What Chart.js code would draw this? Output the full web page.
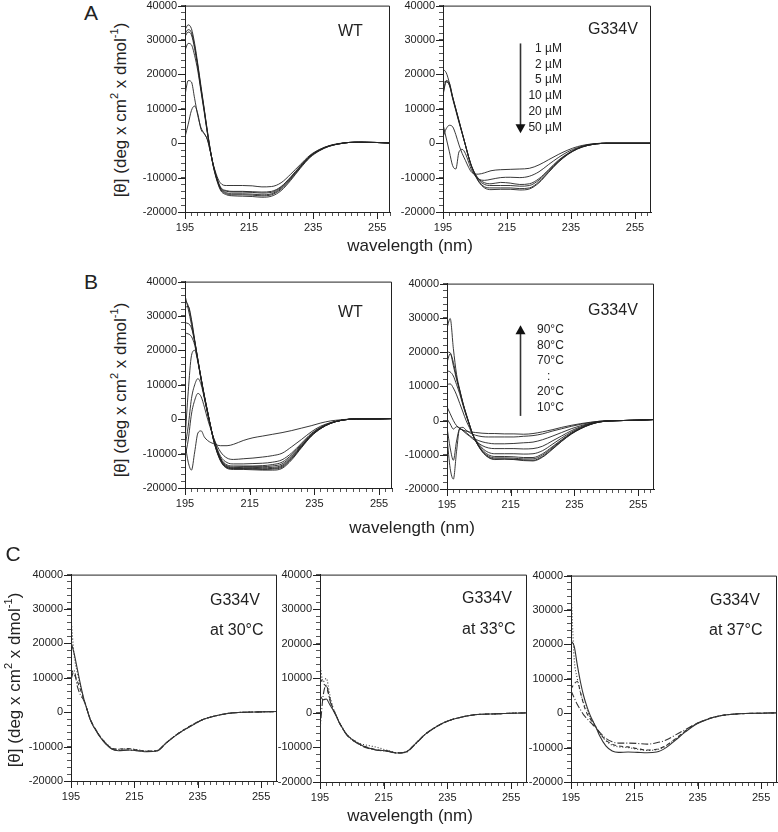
<!DOCTYPE html>
<html>
<head>
<meta charset="utf-8">
<script src="https://cdn.jsdelivr.net/npm/chart.js@4.4.1/dist/chart.umd.min.js"></script>
<style>
  body { margin: 0; background: #fff; width: 778px; height: 832px; position: relative; overflow: hidden;
         font-family: "Liberation Sans", Arial, sans-serif; color: #222; }
  .t { position: absolute; white-space: nowrap; line-height: 1; z-index: 2; }
  sup { font-size: 65%; line-height: 0; position: relative; top: -0.1em; }
</style>
</head>
<body>
<script>
// wavelength grid (nm)
const wl = [195,196,197,198,199,200,201,202,203,204,206,208,210,213,216,219,222,225,228,231,234,237,240,243,246,250,255,260];

// A, WT, protein concentration series
const aWT50 = [33000,34400,33300,29000,23000,16500,10000,3500,-2500,-7500,-13500,-15000,-15300,-15400,-15500,-15700,-15400,-13800,-10800,-7300,-4200,-2200,-900,-200,200,300,200,0];
const aWT20 = [31800,33000,32200,28200,22500,16000,9800,3300,-2500,-7300,-13200,-14700,-15000,-15000,-15100,-15300,-15000,-13400,-10500,-7100,-4000,-2100,-900,-200,200,300,200,0];
const aWT10 = [31000,32300,31500,27500,22000,15500,9500,3000,-2600,-7200,-13000,-14400,-14700,-14700,-14800,-15000,-14700,-13100,-10200,-6900,-3900,-2000,-800,-200,200,300,200,0];
const aWT5  = [27000,29000,28600,25500,21000,15000,9000,2800,-2600,-7000,-12800,-14000,-14200,-14200,-14300,-14500,-14300,-12800,-10000,-6800,-3800,-2000,-800,-200,200,300,200,0];
const aWT2  = [14000,18200,17800,13000,8000,4500,2800,1000,-2800,-7000,-12600,-13800,-14000,-14000,-14100,-14200,-14000,-12600,-9800,-6600,-3700,-1900,-800,-200,200,300,200,0];
const aWT1  = [1800,5500,9500,10800,8500,4000,2800,1000,-2800,-6800,-11500,-12300,-12300,-12300,-12400,-12700,-12600,-11500,-9000,-6200,-3500,-1800,-700,-100,200,300,200,0];

// A, G334V
const aG1  = [21500,20500,17500,13500,10000,6500,3000,-500,-4000,-7000,-11000,-13000,-13500,-13400,-13400,-13600,-13300,-11500,-8500,-5600,-3300,-1700,-700,-200,0,0,0,0];
const aG2  = [14500,18200,17500,13500,10000,6500,3000,-500,-4000,-7000,-10800,-12700,-13000,-13000,-13000,-13200,-13000,-11200,-8300,-5400,-3200,-1600,-700,-200,0,0,0,0];
const aG5  = [17500,18000,17000,13300,9800,6300,2900,-500,-4000,-6900,-10500,-12000,-12300,-12300,-12300,-12500,-12300,-10700,-8000,-5200,-3100,-1600,-700,-200,0,0,0,0];
const aG10 = [14000,17800,16800,13000,9500,6000,2800,-600,-4000,-6800,-10200,-11500,-11800,-11400,-11600,-12000,-11800,-10300,-7700,-5000,-3000,-1500,-600,-200,0,0,0,0];
const aG20 = [5500,1500,-2500,-6500,-7500,-2500,-1800,-3000,-5500,-8000,-10300,-10800,-10500,-10000,-9900,-10000,-9600,-8300,-6200,-4200,-2500,-1300,-500,-100,0,0,0,0];
const aG50 = [1800,4200,5200,4800,2500,-500,-3000,-5000,-7000,-8500,-9000,-8600,-8000,-7700,-7600,-7500,-7300,-6300,-4800,-3300,-2000,-1000,-400,-100,0,0,0,0];

// B, WT, temperature series
const bWT10 = [36000,32000,27500,22500,17000,11800,6800,2200,-2500,-6800,-12200,-14300,-14600,-14600,-14700,-14800,-14800,-14300,-11800,-8300,-5000,-2700,-1200,-400,0,100,100,200];
const bWT20 = [34500,33000,28500,22800,17200,11800,6700,2100,-2500,-6700,-12000,-14100,-14400,-14400,-14500,-14600,-14500,-14000,-11500,-8100,-4900,-2700,-1200,-400,0,100,100,200];
const bWT30 = [32500,32800,29000,23000,17200,11700,6600,2000,-2500,-6600,-11900,-14000,-14300,-14300,-14300,-14400,-14300,-13700,-11300,-8000,-4800,-2600,-1200,-400,0,100,100,200];
const bWT40 = [28000,27800,26500,22500,17000,11600,6500,2000,-2500,-6500,-11700,-13800,-14100,-14000,-14000,-14100,-14000,-13400,-11000,-7800,-4700,-2600,-1200,-400,0,100,100,200];
const bWT50 = [25000,24800,24000,21500,16800,11500,6400,1900,-2500,-6400,-11500,-13600,-13900,-13800,-13800,-13800,-13600,-13000,-10700,-7600,-4600,-2500,-1100,-400,0,100,100,200];
const bWT60 = [-6000,8000,18500,20000,16500,11300,6300,1800,-2500,-6300,-11300,-13300,-13600,-13600,-13600,-13500,-13200,-12500,-10300,-7300,-4400,-2400,-1100,-400,0,100,100,200];
const bWT70 = [-8000,-2000,6000,10000,11800,10000,6000,1500,-2500,-6000,-10800,-12600,-13000,-13000,-12900,-12800,-12500,-11800,-9800,-7000,-4200,-2300,-1100,-400,0,100,100,200];
const bWT80 = [-11000,-6000,1500,5500,7500,6500,3500,0,-3000,-5800,-9500,-11300,-11700,-11500,-11300,-11000,-10600,-9900,-8000,-5900,-3700,-2000,-1000,-300,0,100,100,200];
const bWT90 = [-7000,-12500,-14800,-9500,-4000,-3400,-5200,-6200,-6800,-7200,-7700,-7700,-7300,-6200,-5400,-4900,-4400,-3900,-3300,-2600,-1900,-1100,-500,-200,0,0,100,200];

// B, G334V
const bG10 = [20000,19800,16000,12000,8700,5000,1900,-1000,-3900,-6000,-9000,-10800,-11400,-11300,-11400,-11700,-11800,-10700,-8500,-6100,-4000,-2400,-1200,-400,-100,0,100,300];
const bG20 = [27000,29800,21000,13500,9000,5200,2000,-1000,-3900,-6000,-9000,-10700,-11200,-11200,-11300,-11500,-11600,-10500,-8300,-6000,-3900,-2300,-1100,-400,-100,0,100,300];
const bG30 = [17000,19500,17000,12500,8700,5000,1800,-1100,-3900,-5900,-8800,-10400,-10900,-10900,-11000,-11200,-11200,-10100,-8000,-5800,-3800,-2300,-1100,-400,-100,0,100,300];
const bG40 = [14500,14200,13000,10500,7800,4500,1500,-1200,-3900,-5800,-8500,-10000,-10500,-10500,-10600,-10800,-10800,-9700,-7700,-5600,-3700,-2200,-1100,-400,-100,0,100,300];
const bG50 = [10500,10700,9500,7500,5000,2500,0,-2000,-4000,-5600,-8000,-9300,-9700,-9700,-9700,-9800,-9700,-8800,-7000,-5100,-3400,-2000,-1000,-400,-100,0,100,300];
const bG60 = [4000,2000,0,-1500,-2200,-3000,-3800,-4500,-5300,-6000,-7300,-8000,-8200,-8200,-8200,-8300,-8200,-7500,-6000,-4500,-3000,-1800,-900,-300,-100,0,100,300];
const bG70 = [-2000,-8000,-11600,-6000,-2500,-2800,-3500,-4300,-5000,-5500,-6200,-6600,-6800,-6800,-6700,-6500,-6300,-5600,-4600,-3500,-2400,-1500,-800,-300,-100,0,100,300];
const bG80 = [-5000,-14000,-17100,-9000,-2200,-2000,-2800,-3500,-4000,-4300,-4700,-4800,-4800,-4800,-4800,-4600,-4400,-3900,-3100,-2400,-1700,-1100,-600,-200,-100,0,100,300];
const bG90 = [500,-1000,-2500,-1800,-2300,-2800,-3100,-3300,-3400,-3500,-3700,-3800,-3800,-3900,-3900,-4000,-3800,-3300,-2700,-2000,-1400,-900,-500,-200,-100,0,100,300];

// C, G334V at 30, 33, 37 C (solid, dotted, dashed, dash-dot traces)
const c30a = [20500,17000,12500,8000,4000,1000,-2000,-4000,-5500,-7000,-9300,-10800,-11200,-11000,-11200,-11500,-11300,-9000,-6800,-5000,-3400,-2000,-1200,-600,-200,0,100,200];
const c30b = [27500,16500,11500,7500,4000,1000,-1800,-3800,-5300,-6800,-9000,-10500,-10800,-10600,-10900,-11300,-11200,-8900,-6700,-4900,-3300,-2000,-1200,-600,-200,0,100,200];
const c30c = [12500,11000,9000,6500,3800,1000,-1800,-3800,-5300,-6800,-9000,-10500,-10700,-10600,-11000,-11300,-11200,-8900,-6700,-4900,-3300,-2000,-1200,-600,-200,0,100,200];
const c30d = [9500,12000,7500,5000,3500,900,-1900,-3900,-5400,-6900,-9100,-10700,-11100,-11000,-11200,-11400,-11300,-9000,-6800,-5000,-3400,-2000,-1200,-600,-200,0,100,200];

const c33a = [5000,3800,4000,2500,1000,-700,-2700,-4300,-5800,-6900,-8300,-9400,-10100,-10800,-11000,-11600,-11300,-8900,-6200,-4300,-2800,-1800,-1100,-600,-400,-300,-100,0];
const c33b = [14000,9000,10000,5500,1800,-500,-2600,-4200,-5700,-6800,-8100,-9000,-9400,-10000,-10800,-11500,-11300,-8900,-6200,-4300,-2800,-1800,-1100,-600,-400,-300,-100,0];
const c33c = [10000,8500,7500,4500,1500,-600,-2700,-4300,-5800,-6900,-8300,-9300,-10000,-10700,-11000,-11600,-11300,-8900,-6200,-4300,-2800,-1800,-1100,-600,-400,-300,-100,0];
const c33d = [-5000,5000,8000,4000,1200,-700,-2800,-4400,-5900,-7000,-8400,-9500,-10200,-10800,-11100,-11600,-11400,-9000,-6300,-4300,-2800,-1800,-1100,-600,-400,-300,-100,0];

const c37a = [21000,19500,14000,9000,5000,2000,-500,-2500,-4300,-6500,-9500,-11000,-11400,-11300,-11400,-11500,-11300,-10000,-7800,-5500,-3500,-2200,-1200,-600,-300,-100,0,100];
const c37b = [36000,16000,10000,6000,3000,1000,-1000,-2500,-4300,-5800,-8000,-9300,-9800,-10000,-10500,-10800,-10600,-9500,-7500,-5300,-3400,-2100,-1200,-600,-300,-100,0,100];
const c37c = [7000,8500,9200,6000,2500,0,-1500,-3000,-4300,-5700,-7800,-9000,-9500,-9800,-10300,-10700,-10500,-9400,-7400,-5200,-3300,-2100,-1200,-600,-300,-100,0,100];
const c37d = [6500,4500,2500,1000,-500,-1500,-2500,-3500,-4300,-5500,-7300,-8300,-8700,-8700,-8800,-9000,-8600,-7800,-6300,-4800,-3300,-2100,-1200,-600,-300,-100,0,100];

const xLabels = [195, 215, 235, 255];
const yLabels = [-20000, -10000, 0, 10000, 20000, 30000, 40000];

const dashes = [[], [1, 2], [4, 3], [7, 2, 1, 2]];

// box around plot, longer major ticks, arrow
const frame = {
  id: 'frame',
  afterDraw(chart, args, opts) {
    const {ctx, chartArea: a, scales: {x, y}} = chart;
    ctx.save();
    ctx.strokeStyle = '#222';
    ctx.lineWidth = 1;
    ctx.beginPath();
    ctx.moveTo(a.left, a.top + 0.5); ctx.lineTo(a.right - 0.5, a.top + 0.5); ctx.lineTo(a.right - 0.5, a.bottom);
    yLabels.forEach(v => { const p = Math.round(y.getPixelForValue(v)) + 0.5; ctx.moveTo(a.left, p); ctx.lineTo(a.left - 7, p); });
    xLabels.forEach(v => { const p = Math.round(x.getPixelForValue(v)) + 0.5; ctx.moveTo(p, a.bottom); ctx.lineTo(p, a.bottom + 7); });
    ctx.stroke();
    if (opts.arrow) {
      const ar = opts.arrow;
      const px = Math.round(x.getPixelForValue(ar.x)) + 0.5;
      const p0 = y.getPixelForValue(ar.from), p1 = y.getPixelForValue(ar.to);
      const dir = p1 > p0 ? 1 : -1;
      ctx.strokeStyle = '#333';
      ctx.lineWidth = 1.6;
      ctx.beginPath(); ctx.moveTo(px, p0); ctx.lineTo(px, p1 - dir * 6); ctx.stroke();
      ctx.fillStyle = '#111';
      ctx.beginPath(); ctx.moveTo(px, p1); ctx.lineTo(px - 5, p1 - dir * 9); ctx.lineTo(px + 5, p1 - dir * 9); ctx.closePath(); ctx.fill();
    }
    ctx.restore();
  }
};

const tickFont = {family: 'Liberation Sans', size: 11};

function panel(box, xmax, series, styled, arrow) {
  const cv = document.createElement('canvas');
  const w = box.r - box.l + 54, h = box.b - box.t + 35;
  cv.width = w; cv.height = h;
  cv.style.cssText = `position:absolute;left:${box.l - 50}px;top:${box.t - 10}px;width:${w}px;height:${h}px`;
  document.body.appendChild(cv);
  new Chart(cv, {
    type: 'line',
    data: {
      datasets: series.map((s, i) => ({
        data: wl.map((v, j) => ({x: v, y: s[j]})),
        borderColor: styled ? '#333' : '#222',
        borderWidth: styled ? 1.1 : 0.9,
        borderDash: styled ? dashes[i] : [],
        pointRadius: 0,
        cubicInterpolationMode: 'monotone'
      }))
    },
    options: {
      responsive: false,
      animation: false,
      layout: {padding: {top: 10, right: 4, left: 0, bottom: 0}},
      plugins: {legend: {display: false}, tooltip: {enabled: false}, frame: {arrow}},
      scales: {
        x: {
          type: 'linear', min: 195, max: xmax,
          afterBuildTicks: s => { const t = []; for (let v = 195; v <= xmax; v += 2) t.push({value: v}); s.ticks = t; },
          afterFit: s => { s.height = 25; },
          grid: {drawOnChartArea: false, tickLength: 4, color: '#555'},
          border: {color: '#222'},
          ticks: {autoSkip: false, maxRotation: 0, padding: 5, color: '#222', font: tickFont,
                  callback: v => xLabels.includes(v) ? String(v) : ''}
        },
        y: {
          min: -20000, max: 40000,
          afterFit: s => { s.width = 50; },
          grid: {drawOnChartArea: false, tickLength: 4, color: '#555'},
          border: {color: '#222'},
          ticks: {stepSize: 2000, autoSkip: false, padding: 4, color: '#222', font: tickFont,
                  callback: v => yLabels.includes(v) ? String(v) : ''}
        }
      }
    },
    plugins: [frame]
  });
}

panel({l: 185, t: 5, r: 391, b: 212}, 259, [aWT50, aWT20, aWT10, aWT5, aWT2, aWT1]);
panel({l: 443, t: 5, r: 651, b: 212}, 260, [aG1, aG2, aG5, aG10, aG20, aG50], false, {x: 219, from: 29000, to: 2900});
panel({l: 185, t: 281, r: 393, b: 488}, 259, [bWT10, bWT20, bWT30, bWT40, bWT50, bWT60, bWT70, bWT80, bWT90]);
panel({l: 447, t: 283, r: 654, b: 489}, 260, [bG10, bG20, bG30, bG40, bG50, bG60, bG70, bG80, bG90], false, {x: 218, from: 1350, to: 27800});
panel({l: 71, t: 574, r: 277, b: 781}, 260, [c30a, c30b, c30c, c30d], true);
panel({l: 320, t: 574, r: 527, b: 782}, 260, [c33a, c33b, c33c, c33d], true);
panel({l: 571, t: 575, r: 777, b: 782}, 260, [c37a, c37b, c37c, c37d], true);

// text
function label(html, x, y, size, align, rotate) {
  const d = document.createElement('div');
  d.className = 't';
  d.innerHTML = html;
  d.style.left = x + 'px';
  d.style.top = y + 'px';
  d.style.fontSize = size + 'px';
  const tx = align === 'c' ? '-50%' : align === 'r' ? '-100%' : '0';
  d.style.transform = `translate(${tx},-50%)` + (rotate ? ' rotate(-90deg)' : '');
  document.body.appendChild(d);
}

const yTitle = '[&theta;] (deg x cm<sup>2</sup> x dmol<sup>-1</sup>)';
label('A', 91, 12, 21, 'c');
label('B', 91, 281, 21, 'c');
label('C', 13, 553, 21, 'c');
label(yTitle, 120, 110, 17, 'c', true);
label(yTitle, 120, 390, 17, 'c', true);
label(yTitle, 14, 680, 17, 'c', true);
label('wavelength (nm)', 410, 245, 17, 'c');
label('wavelength (nm)', 412, 527, 17, 'c');
label('wavelength (nm)', 410, 815, 17, 'c');

label('WT', 338, 31, 16, 'l');
label('G334V', 588, 29, 16, 'l');
label('WT', 338, 312, 16, 'l');
label('G334V', 588, 310, 16, 'l');

const concLabels = ['1 &micro;M', '2 &micro;M', '5 &micro;M', '10 &micro;M', '20 &micro;M', '50 &micro;M'];
concLabels.forEach((s, i) => label(s, 562, 48 + i * 15.7, 12, 'r'));
const tempLabels = ['90&deg;C', '80&deg;C', '70&deg;C', ':', '20&deg;C', '10&deg;C'];
tempLabels.forEach((s, i) => label(s, s === ':' ? 547 : 537, 329 + i * 15.5, 12, 'l'));

label('G334V', 210, 600, 16, 'l');
label('at 30&deg;C', 210, 630, 16, 'l');
label('G334V', 462, 598, 16, 'l');
label('at 33&deg;C', 462, 629, 16, 'l');
label('G334V', 710, 600, 16, 'l');
label('at 37&deg;C', 709, 630, 16, 'l');
</script>
</body>
</html>
